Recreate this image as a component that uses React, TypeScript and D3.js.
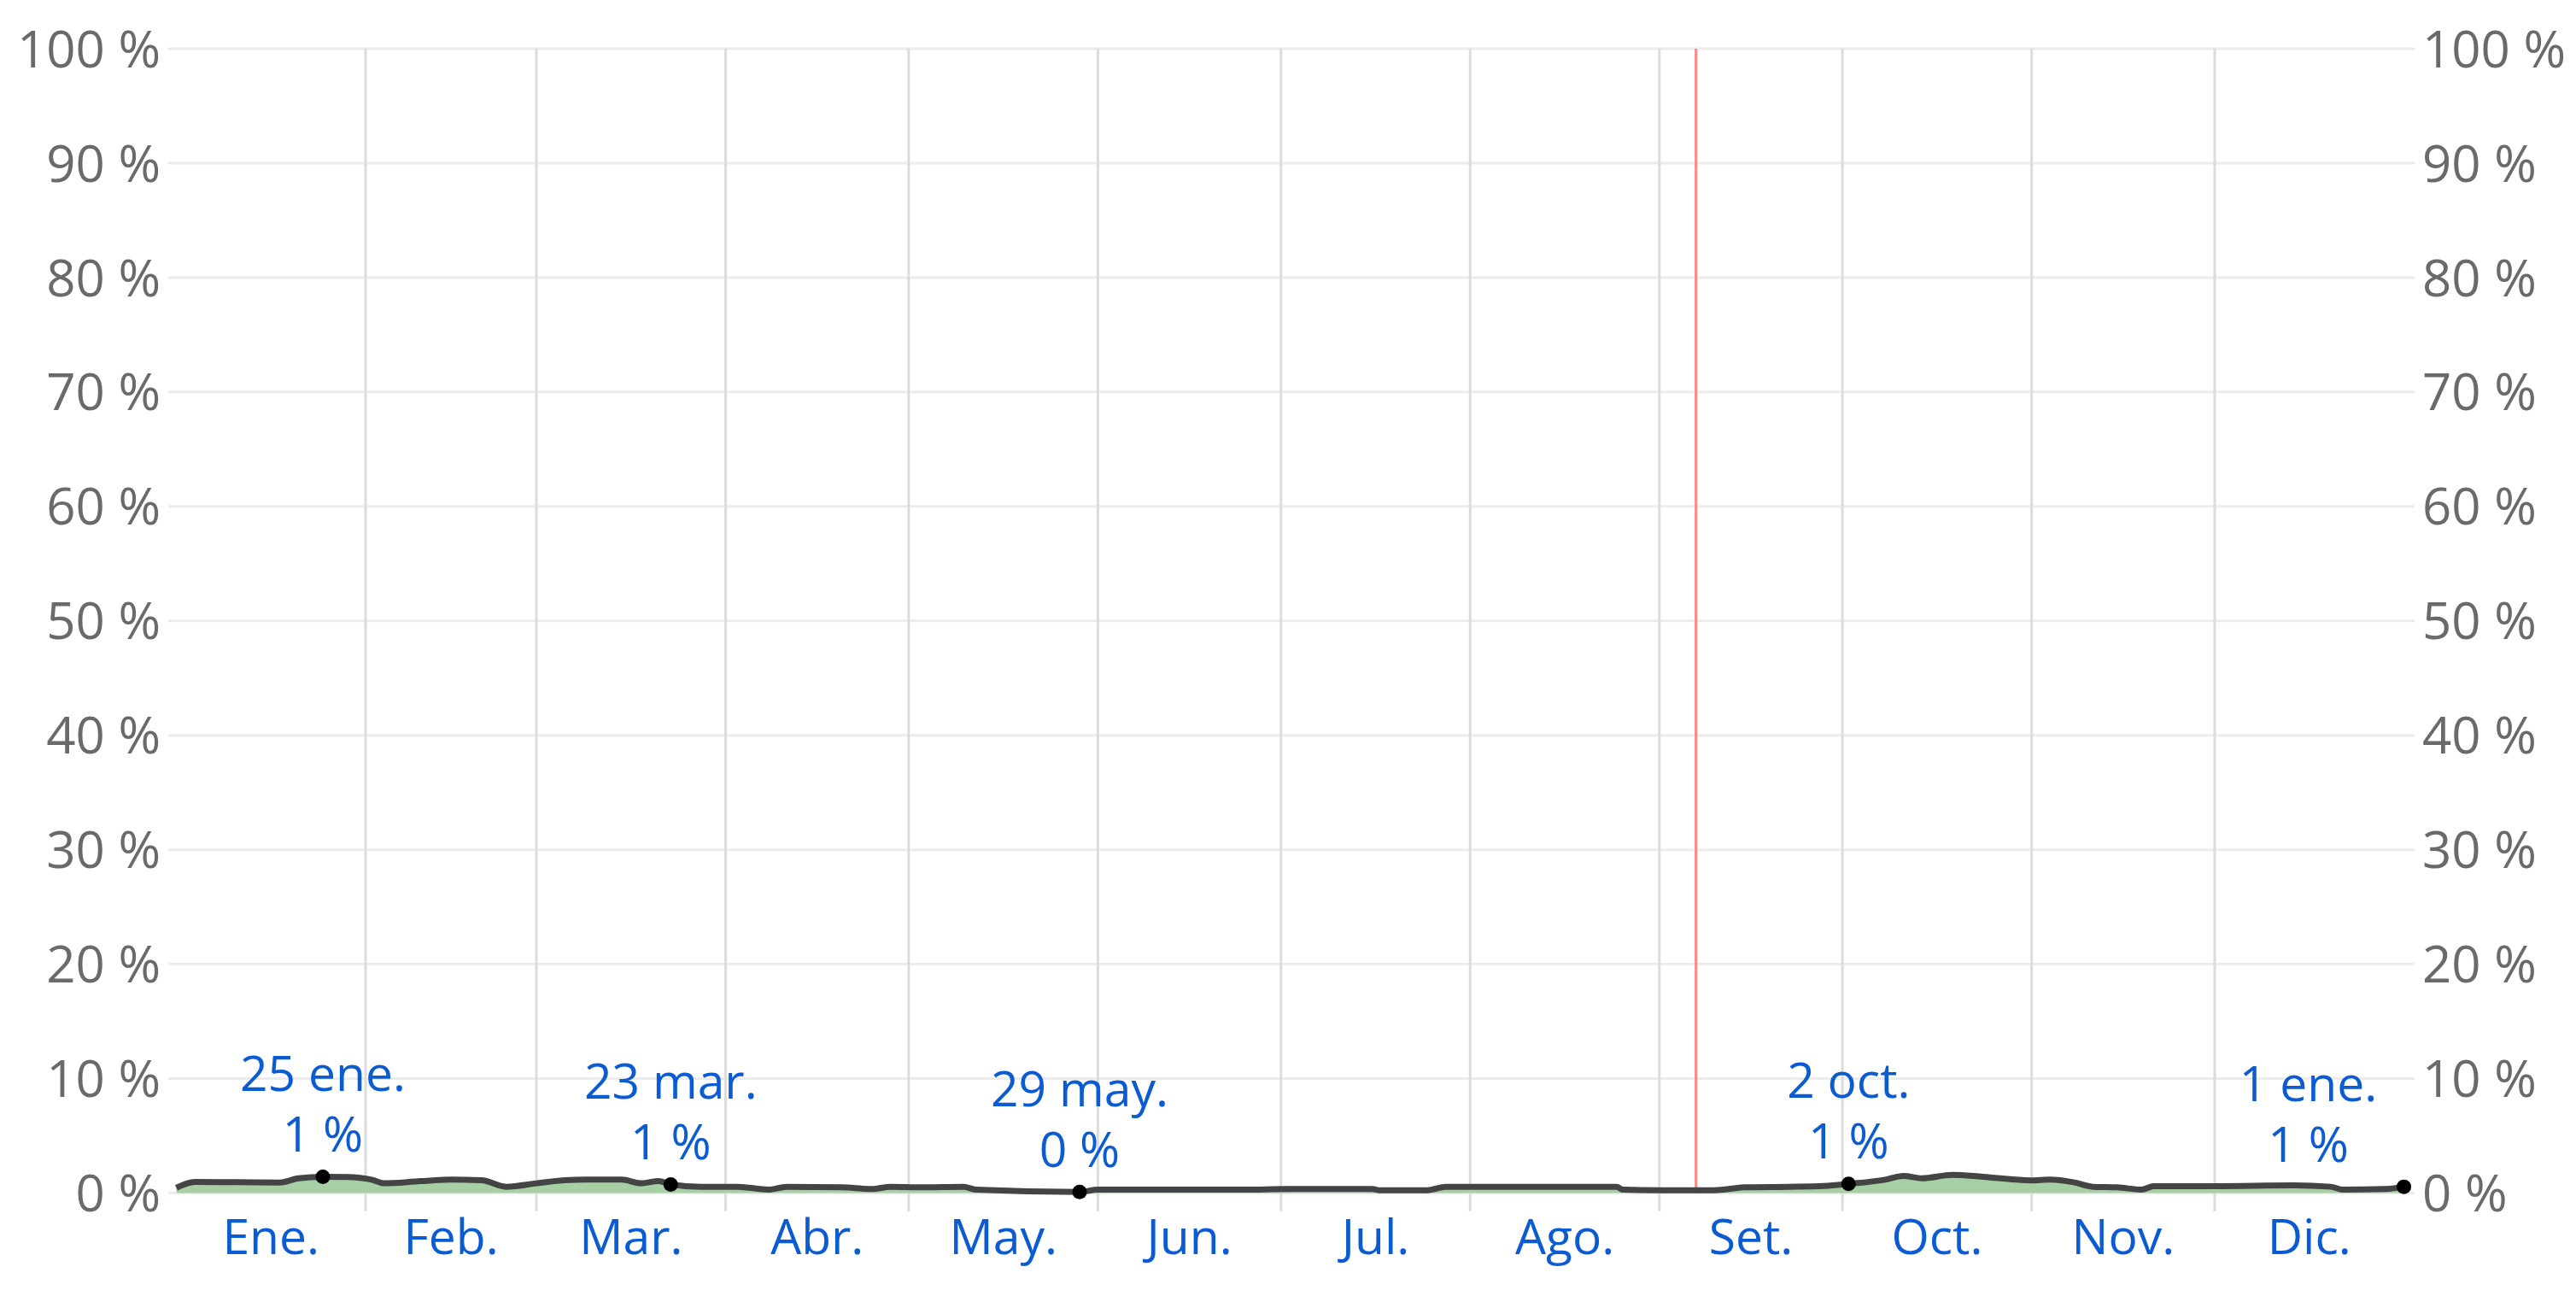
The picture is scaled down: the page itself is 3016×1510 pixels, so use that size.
import React, { useEffect, useRef } from 'react';
import * as d3 from 'd3';

const svgWidth = 3016;
const svgHeight = 1510;

// day of year (0 = 1 ene.) and chance in %
const days = [0, 3, 10, 17, 20, 24, 28, 32, 34, 40, 45, 50, 54, 59, 60, 67, 73, 76, 79, 81, 86, 92, 97, 100, 109, 114, 117, 122, 129, 131, 148, 151, 165, 175, 182, 196, 197, 205, 208, 236, 237, 243, 252, 257, 264, 270, 274, 280, 283, 286, 291, 296, 304, 307, 311, 314, 318, 322, 324, 334, 347, 353, 355, 362, 365];
const values = [0.45, 0.97, 0.95, 0.92, 1.29, 1.42, 1.4, 1.17, 0.85, 1.04, 1.17, 1.12, 0.55, 0.85, 0.92, 1.17, 1.17, 0.85, 1.04, 0.75, 0.55, 0.55, 0.3, 0.55, 0.5, 0.35, 0.55, 0.5, 0.55, 0.3, 0.1, 0.3, 0.3, 0.3, 0.35, 0.35, 0.25, 0.25, 0.55, 0.55, 0.3, 0.25, 0.25, 0.5, 0.55, 0.62, 0.8, 1.17, 1.49, 1.29, 1.59, 1.42, 1.1, 1.17, 0.92, 0.55, 0.5, 0.3, 0.6, 0.6, 0.67, 0.55, 0.3, 0.35, 0.55];

const monthStarts = [0, 31, 59, 90, 120, 151, 181, 212, 243, 273, 304, 334, 365];
const monthLabels = ['Ene.', 'Feb.', 'Mar.', 'Abr.', 'May.', 'Jun.', 'Jul.', 'Ago.', 'Set.', 'Oct.', 'Nov.', 'Dic.'];
const yTicks = [0, 10, 20, 30, 40, 50, 60, 70, 80, 90, 100];

const annDays = [24, 81, 148, 274, 365];
const annDates = ['25 ene.', '23 mar.', '29 may.', '2 oct.', '1 ene.'];
const annPcts = ['1 %', '1 %', '0 %', '1 %', '1 %'];

const todayDay = 249;

const blue = '#0b5bd3';
const grey = '#6a6a6a';
const font = '"Open Sans", sans-serif';

const App = () => {
    const ref = useRef(null);

    useEffect(() => {
        const svg = d3.select(ref.current);
        svg.selectAll('*').remove();

        const x = d3.scaleLinear().domain([0, 365]).range([206.5, 2814.5]);
        const y = d3.scaleLinear().domain([0, 100]).range([1396.5, 57]);
        const gridLeft = 197;
        const gridRight = 2827;

        // horizontal grid
        svg.append('g').selectAll('line').data(yTicks).enter().append('line')
            .attr('x1', gridLeft).attr('x2', gridRight)
            .attr('y1', d => y(d)).attr('y2', d => y(d))
            .attr('stroke', '#ececec').attr('stroke-width', 3);

        // vertical month grid
        svg.append('g').selectAll('line').data(monthStarts.slice(1, 12)).enter().append('line')
            .attr('x1', d => x(d)).attr('x2', d => x(d))
            .attr('y1', y(100)).attr('y2', 1418)
            .attr('stroke', '#dcdcdc').attr('stroke-width', 3);

        // y labels both sides
        svg.append('g').selectAll('text').data(yTicks).enter().append('text')
            .attr('x', 188).attr('y', d => y(d)).attr('dy', '0.36em')
            .attr('text-anchor', 'end')
            .attr('font-family', font).attr('font-size', 60).attr('fill', grey)
            .text(d => d + ' %');
        svg.append('g').selectAll('text').data(yTicks).enter().append('text')
            .attr('x', 2836).attr('y', d => y(d)).attr('dy', '0.36em')
            .attr('text-anchor', 'start')
            .attr('font-family', font).attr('font-size', 60).attr('fill', grey)
            .text(d => d + ' %');

        // month labels
        svg.append('g').selectAll('text').data(monthLabels).enter().append('text')
            .attr('x', (d, i) => x((monthStarts[i] + monthStarts[i + 1]) / 2))
            .attr('y', 1447).attr('dy', '0.36em')
            .attr('text-anchor', 'middle')
            .attr('font-family', font).attr('font-size', 57).attr('fill', blue)
            .text(d => d);

        // today line
        svg.append('line')
            .attr('x1', x(todayDay)).attr('x2', x(todayDay))
            .attr('y1', y(100)).attr('y2', y(0))
            .attr('stroke', '#ff8585').attr('stroke-width', 3);

        const data = days.map((d, i) => [d, values[i]]);

        const area = d3.area()
            .x(d => x(d[0])).y0(y(0)).y1(d => y(d[1]))
            .curve(d3.curveMonotoneX);
        const line = d3.line()
            .x(d => x(d[0])).y(d => y(d[1]))
            .curve(d3.curveMonotoneX);

        svg.append('path').datum(data)
            .attr('d', area).attr('fill', '#a6d0a3');
        svg.append('path').datum(data)
            .attr('d', line).attr('fill', 'none')
            .attr('stroke', '#444').attr('stroke-width', 7)
            .attr('stroke-linejoin', 'round');

        // annotations
        const ann = svg.append('g');
        annDays.forEach((day, i) => {
            const v = values[days.indexOf(day)];
            const cx = x(day);
            const cy = y(v);
            const tx = Math.min(cx, x(365) - 112);
            ann.append('circle')
                .attr('cx', cx).attr('cy', cy).attr('r', 8.5).attr('fill', '#000');
            ann.append('text')
                .attr('x', tx).attr('y', cy - 121).attr('dy', '0.36em')
                .attr('text-anchor', 'middle')
                .attr('font-family', font).attr('font-size', 57).attr('fill', blue)
                .text(annDates[i]);
            ann.append('text')
                .attr('x', tx).attr('y', cy - 50).attr('dy', '0.36em')
                .attr('text-anchor', 'middle')
                .attr('font-family', font).attr('font-size', 57).attr('fill', blue)
                .text(annPcts[i]);
        });
    }, []);

    return (
        <svg ref={ref} width={svgWidth} height={svgHeight}
            style={{ position: 'absolute', left: 0, top: 0, background: '#fff' }} />
    );
};

export default App;
